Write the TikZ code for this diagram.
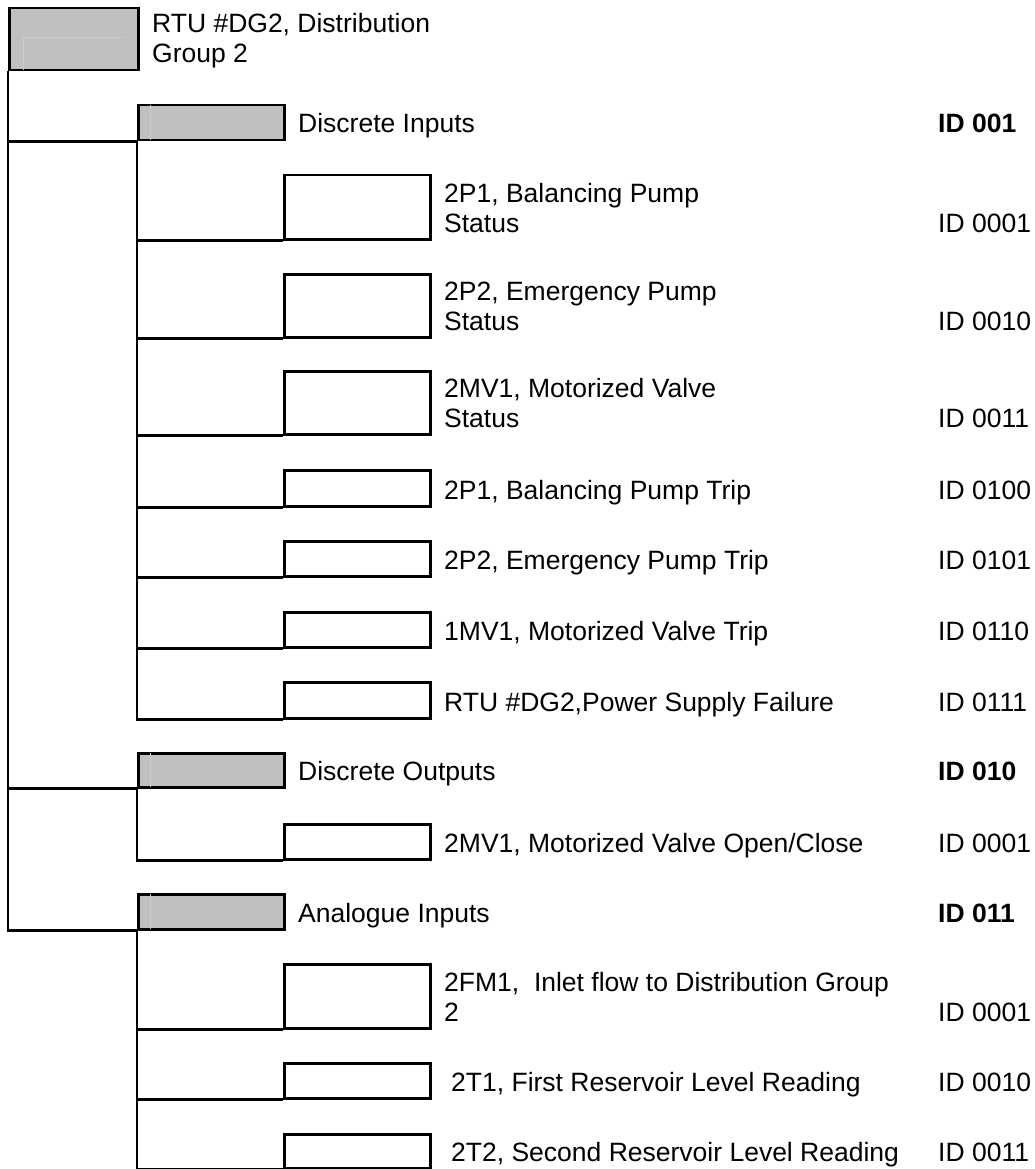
\documentclass[tikz,border=0pt]{standalone}
\usepackage{fontspec}
\setmainfont{Liberation Sans}
\definecolor{boxgray}{RGB}{192,192,192}
\definecolor{boxlight}{RGB}{204,204,204}
\begin{document}
\begin{tikzpicture}[x=1pt,y=-1pt,
  box/.style={draw=black, line width=2.5pt, inner sep=0pt, anchor=north west, fill=white, minimum width=146pt},
  graybox/.style={box, fill=boxgray},
  lbl/.style={anchor=base west, inner sep=0pt, font=\fontsize{26.5}{30}\selectfont},
  idb/.style={lbl, font=\fontsize{26.5}{30}\selectfont\bfseries},
  conn/.style={draw=black, line width=2.5pt},
  shade/.style={draw=boxlight, line width=0.8pt}]
\useasboundingbox (0,0) rectangle (1035,1169);

% boxes
\node[graybox, minimum width=129pt, minimum height=62pt] (root) at (8,7) {};
\node[graybox, minimum height=35pt] (di) at (137,104) {};
\node[box, minimum height=64pt] (di1) at (283,174) {};
\node[box, minimum height=63pt] (di2) at (283,273) {};
\node[box, minimum height=63pt] (di3) at (283,370) {};
\node[box, minimum height=36pt] (di4) at (283,469) {};
\node[box, minimum height=35pt] (di5) at (283,540) {};
\node[box, minimum height=35pt] (di6) at (283,611) {};
\node[box, minimum height=36pt] (di7) at (283,681) {};
\node[graybox, minimum height=34pt] (do) at (137,752) {};
\node[box, minimum height=35pt] (do1) at (283,823) {};
\node[graybox, minimum height=35pt] (ai) at (137,893) {};
\node[box, minimum height=64pt] (ai1) at (283,963) {};
\node[box, minimum height=35pt] (ai2) at (283,1062) {};
\node[box, minimum height=34pt] (ai3) at (283,1133) {};

% faint bevel lines inside the grey boxes
\draw[shade] ([xshift=15pt,yshift=-30pt]root.north west) -- ([xshift=15pt,yshift=1.4pt]root.south west);
\draw[shade] ([xshift=15pt,yshift=-30pt]root.north west) -- ([xshift=-15pt,yshift=-30pt]root.north east);
\foreach \g in {di,do,ai}{
  \draw[shade] ([xshift=13pt,yshift=-1.4pt]\g.north west) -- ([xshift=13pt,yshift=1.4pt]\g.south west);
}

% connectors
\draw[conn] (root.south west) |- (di.south west);
\draw[conn] (root.south west) |- (do.south west);
\draw[conn] (root.south west) |- (ai.south west);
\foreach \c in {di1,di2,di3,di4,di5,di6,di7}{
  \draw[conn] (di.south west) |- (\c.south west);
}
\draw[conn] (do.south west) |- (do1.south west);
\foreach \c in {ai1,ai2,ai3}{
  \draw[conn] (ai.south west) |- (\c.south west);
}

% texts
\node[lbl] (t0a) at (152,33) {RTU \#DG2, Distribution};
\node[lbl] (t0b) at (152,63) {Group 2};

\node[lbl] (tdi) at (298,133) {Discrete Inputs};
\node[idb] (idi) at (938,133) {ID 001};

\node[lbl] (t1a) at (444,202) {2P1, Balancing Pump};
\node[lbl] (t1b) at (444,232) {Status};
\node[lbl] (i1) at (938,232) {ID 0001};

\node[lbl] (t2a) at (444,300) {2P2, Emergency Pump};
\node[lbl] (t2b) at (444,330) {Status};
\node[lbl] (i2) at (938,330) {ID 0010};

\node[lbl] (t3a) at (444,397) {2MV1, Motorized Valve};
\node[lbl] (t3b) at (444,427) {Status};
\node[lbl] (i3) at (938,427) {ID 0011};

\node[lbl] (t4) at (444,499) {2P1, Balancing Pump Trip};
\node[lbl] (i4) at (938,499) {ID 0100};

\node[lbl] (t5) at (444,569) {2P2, Emergency Pump Trip};
\node[lbl] (i5) at (938,569) {ID 0101};

\node[lbl] (t6) at (444,640) {1MV1, Motorized Valve Trip};
\node[lbl] (i6) at (938,640) {ID 0110};

\node[lbl] (t7) at (444,711) {RTU \#DG2,Power Supply Failure};
\node[lbl] (i7) at (938,711) {ID 0111};

\node[lbl] (tdo) at (298,780) {Discrete Outputs};
\node[idb] (ido) at (938,780) {ID 010};

\node[lbl] (t8) at (444,852) {2MV1, Motorized Valve Open/Close};
\node[lbl] (i8) at (938,852) {ID 0001};

\node[lbl] (tai) at (298,922) {Analogue Inputs};
\node[idb] (iai) at (938,922) {ID 011};

\node[lbl] (t9a) at (444,991) {2FM1,\ \ Inlet flow to Distribution Group};
\node[lbl] (t9b) at (444,1021) {2};
\node[lbl] (i9) at (938,1021) {ID 0001};

\node[lbl] (t10) at (451,1091) {2T1, First Reservoir Level Reading};
\node[lbl] (i10) at (938,1091) {ID 0010};

\node[lbl] (t11) at (451,1161) {2T2, Second Reservoir Level Reading};
\node[lbl] (i11) at (938,1161) {ID 0011};
\end{tikzpicture}
\end{document}
